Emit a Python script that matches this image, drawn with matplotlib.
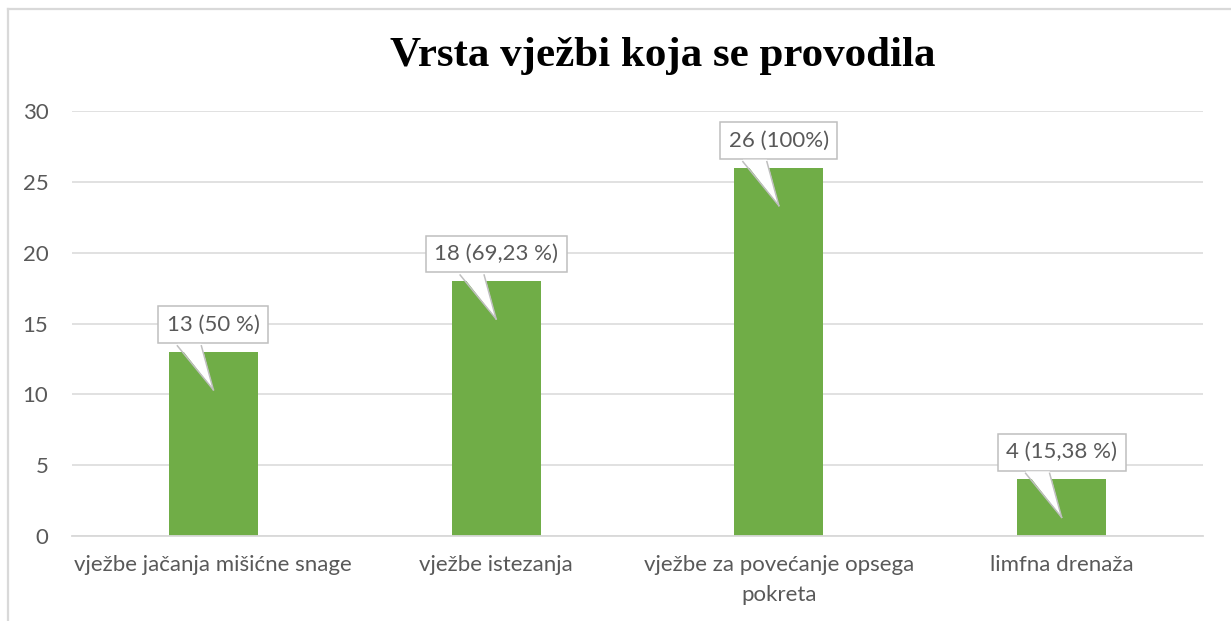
import matplotlib
matplotlib.use("Agg")
import matplotlib.pyplot as plt
from matplotlib import transforms
from matplotlib.patches import Polygon
from matplotlib.lines import Line2D

categories = ["vježbe jačanja mišićne snage", "vježbe istezanja",
              "vježbe za povećanje opsega\npokreta", "limfna drenaža"]
counts = [13, 18, 26, 4]
labels = ["13 (50 %)", "18 (69,23 %)", "26 (100%)", "4 (15,38 %)"]
yticks = [0, 5, 10, 15, 20, 25, 30]

W, H = 1231, 621
fig = plt.figure(figsize=(W / 100, H / 100), dpi=100)
ax = fig.add_axes([72 / W, 1 - 536 / H, (1203 - 72) / W, (536 - 111) / H])

grey_txt = "#595959"
grid_c = "#D9D9D9"
font = "Lato"
fs = 16

x = range(len(categories))
ax.bar(x, counts, width=0.315, color="#70AD47", zorder=2)
ax.set_xlim(-0.5, len(categories) - 0.5)
ax.set_ylim(0, 30)
ax.set_yticks(yticks)
ax.set_xticks(list(x))
ax.set_xticklabels(categories, fontsize=fs, color=grey_txt, family=font,
                   linespacing=1.6)
ax.set_yticklabels([str(t) for t in yticks], fontsize=fs, color=grey_txt,
                   family=font)
ax.tick_params(axis="both", length=0)
ax.tick_params(axis="y", pad=17)
ax.tick_params(axis="x", pad=14)
ax.grid(axis="y", color=grid_c, lw=1.1, zorder=0)
for s in ["top", "right", "left"]:
    ax.spines[s].set_visible(False)
ax.spines["bottom"].set_color(grid_c)
ax.spines["bottom"].set_linewidth(1.3)

# callouts
for i, (v, lab) in enumerate(zip(counts, labels)):
    ax.annotate(lab, xy=(i, v), xytext=(0, 27), textcoords="offset pixels",
                ha="center", va="center", fontsize=fs, color=grey_txt,
                family=font, zorder=6,
                bbox=dict(boxstyle="square,pad=0.38", fc="white",
                          ec="#BFBFBF", lw=1.1))
    tr = transforms.Affine2D() + transforms.ScaledTranslation(i, v, ax.transData)
    tip = (0, -38)
    b1, b2 = (-36, 8), (-12, 8)
    ax.add_patch(Polygon([b1, tip, b2], closed=True, fc="white", ec="none",
                         transform=tr, zorder=7, clip_on=False))
    for b in (b1, b2):
        ax.add_line(Line2D([b[0], tip[0]], [b[1] - 2, tip[1]], color="#BFBFBF",
                           lw=1.1, transform=tr, zorder=8, clip_on=False))

fig.text(663 / W, 1 - 56 / H, "Vrsta vježbi koja se provodila",
         ha="center", va="center", fontsize=31, fontweight="bold",
         family="Liberation Serif", color="black")

# chart border
fig.add_artist(Line2D([8 / W, 8 / W], [0, 1 - 9 / H], color=grid_c, lw=1.6,
                      transform=fig.transFigure))
fig.add_artist(Line2D([8 / W, 1], [1 - 9 / H, 1 - 9 / H], color=grid_c, lw=1.6,
                      transform=fig.transFigure))

fig.savefig("out.png", dpi=100, facecolor="white")
